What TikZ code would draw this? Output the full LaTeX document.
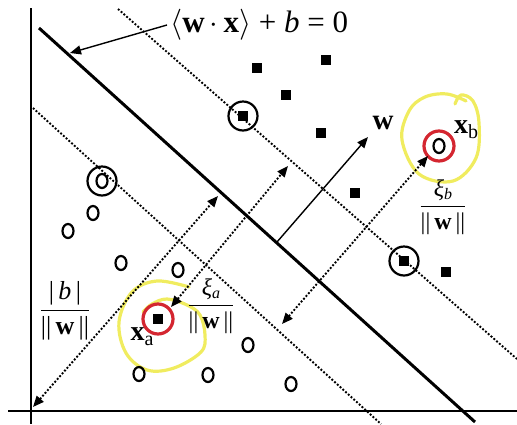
\RequirePackage{fix-cm}
\documentclass[tikz,border=0pt]{standalone}
\usepackage{fontspec}
\setmainfont{Liberation Serif}
\usetikzlibrary{arrows.meta,shapes.geometric}
\definecolor{hlred}{RGB}{212,38,48}
\definecolor{hlyellow}{RGB}{240,236,95}
\begin{document}
\begin{tikzpicture}[x=1pt,y=-1pt,
  axis/.style={line width=2pt},
  hyper/.style={line width=3pt},
  margin/.style={line width=1.9pt, dash pattern=on 1.9pt off 1.8pt},
  dotarrow/.style={line width=1.9pt, dash pattern=on 1.9pt off 1.8pt,
    {Triangle[length=11pt,width=9pt]}-{Triangle[length=11pt,width=9pt]}},
  solidarrow/.style={line width=1.4pt, -{Triangle[length=11pt,width=9pt]}},
  sqpt/.style={rectangle, fill=black, minimum size=10.5pt, inner sep=0pt},
  cpt/.style={ellipse, draw, line width=2.2pt, minimum width=11pt, minimum height=14pt, inner sep=0pt},
  svring/.style={circle, draw, line width=2.2pt, minimum size=29pt, inner sep=0pt},
  redring/.style={circle, draw=hlred, line width=3.2pt, minimum size=30pt, inner sep=0pt},
  hl/.style={draw=hlyellow, line width=3.2pt, line cap=round, line join=round},
  lab/.style={inner sep=0pt, font=\fontsize{28}{30}\selectfont},
  fraclab/.style={inner sep=0pt, font=\fontsize{24}{27}\selectfont}
]
\useasboundingbox (0,0) rectangle (517,424);

% axes
\coordinate (yaxtop) at (31,8);
\coordinate (yaxbot) at (31,424);
\coordinate (xaxl) at (8,411);
\coordinate (xaxr) at (517,411);
\draw[axis] (yaxtop) -- (yaxbot);
\draw[axis] (xaxl) -- (xaxr);

% margins and hyperplane
\coordinate (u1) at (118,9);
\coordinate (u2) at (517,359);
\coordinate (l1) at (33,108);
\coordinate (l2) at (381,424);
\coordinate (h1) at (39,28);
\coordinate (h2) at (475,422);
\draw[margin] (u1) -- (u2);
\draw[margin] (l1) -- (l2);
\draw[hyper] (h1) -- (h2);

% highlight marks
\draw[hl] plot[smooth, tension=0.6] coordinates {(455,104) (461,95) (473,101) (479,123) (476,158) (453,181) (419,174) (402,140) (409,111) (425,97) (447,94) (466,101)};
\draw[hl] plot[smooth, tension=0.6] coordinates {(189,287) (157,281) (132,292) (119,322) (126,353) (147,370) (174,368) (201,352) (205,335) (200,315) (187,305) (167,299) (152,304) (143,312)};

% squares
\node[sqpt] (s1) at (257,68) {};
\node[sqpt] (s2) at (326,60) {};
\node[sqpt] (s3) at (286,95) {};
\node[sqpt] (s4) at (321,133) {};
\node[sqpt] (s5) at (355,193) {};
\node[sqpt] (s6) at (446,272) {};
\node[svring] (sv1) at (243,116) {};
\node[sqpt] (s7) at (243,116) {};
\node[svring] (sv2) at (404,261) {};
\node[sqpt] (s8) at (404,261) {};
\node[redring] (rxa) at (158,319) {};
\node[sqpt] (xa) at (158,319) {};

% circles
\node[svring] (sv3) at (102,181) {};
\node[cpt] (c1) at (102,181) {};
\node[cpt] (c2) at (93,213) {};
\node[cpt] (c3) at (68,231) {};
\node[cpt] (c4) at (121,263) {};
\node[cpt] (c5) at (178,270) {};
\node[cpt] (c6) at (248,345) {};
\node[cpt] (c7) at (139,374) {};
\node[cpt] (c8) at (208,375) {};
\node[cpt] (c9) at (291,384) {};
\node[redring] (rxb) at (439,146) {};
\node[cpt] (xb) at (439,146) {};

% arrows
\coordinate (o) at (33,407);
\coordinate (hb) at (218,196);
\draw[dotarrow] (o) -- (hb);
\coordinate (xa1) at (171,307);
\coordinate (ua) at (288,166);
\draw[dotarrow] (xa1) -- (ua);
\coordinate (xb1) at (428,156);
\coordinate (lb) at (282,324);
\draw[dotarrow] (xb1) -- (lb);
\coordinate (w1) at (277,242);
\coordinate (w2) at (368,137);
\draw[solidarrow] (w1) -- (w2);

% labels
\node[anchor=west, inner sep=0pt, font=\fontsize{31}{33}\selectfont] (eq) at (170,25)
  {$\langle$\textbf{w}\,$\cdot$\,\textbf{x}$\rangle$ + \textit{b} = 0};
\coordinate (eqtip) at (70,53);
\draw[solidarrow] ([xshift=-3pt]eq.west) -- (eqtip);
\node[lab, font=\fontsize{29}{31}\selectfont] (wl) at (383,123) {\textbf{w}};
\node[lab] (xbl) at (466,130) {\textbf{x}{\fontsize{20}{20}\selectfont\raisebox{-5pt}{b}}};
\node[lab] (xal) at (142,337) {\textbf{x}{\fontsize{20}{20}\selectfont\raisebox{-5pt}{a}}};
\node[fraclab] (fb) at (443,207) {$\displaystyle\frac{\mbox{\textit{ξ}{\fontsize{16}{16}\selectfont\raisebox{-3pt}{\textit{b}}}}}{\mbox{||\,\textbf{w}\,||}}$};
\node[fraclab] (fa) at (211,306) {$\displaystyle\frac{\mbox{\textit{ξ}{\fontsize{16}{16}\selectfont\raisebox{-3pt}{\textit{a}}}}}{\mbox{||\,\textbf{w}\,||}}$};
\node[fraclab, font=\fontsize{26}{29}\selectfont] (f0) at (65,311) {$\displaystyle\frac{\mbox{|\,\textit{b}\,|}}{\mbox{||\,\textbf{w}\,||}}$};
\end{tikzpicture}
\end{document}
